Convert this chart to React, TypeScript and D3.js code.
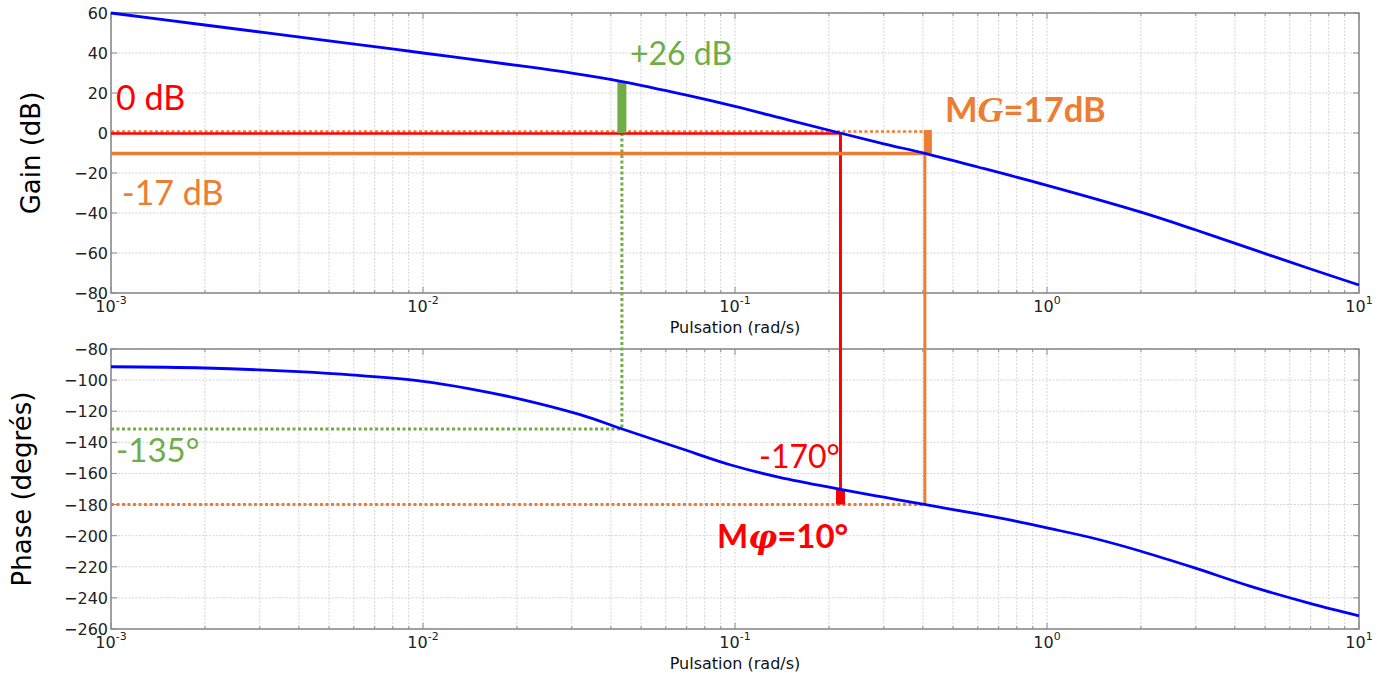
import React from "react";
import * as d3 from "d3";

// gain curve (rad/s, dB)
const gainFreq = [0.001, 0.002, 0.005, 0.01, 0.02, 0.03, 0.0435, 0.07, 0.1, 0.15, 0.217, 0.3, 0.406, 0.6, 1, 2, 3, 4.47, 7, 10];
const gainDb = [60, 54, 46.1, 40, 33.8, 29.9, 25.7, 18.9, 13.3, 6.3, 0, -5.4, -10.2, -17, -26.2, -39.6, -48.5, -57.7, -68, -76];

// phase curve (rad/s, degrees)
const phaseFreq = [0.001, 0.002, 0.004, 0.006, 0.01, 0.014, 0.02, 0.0319, 0.0435, 0.0667, 0.0964, 0.139, 0.218, 0.3, 0.4, 0.6, 0.8, 1, 1.4, 2, 2.94, 4.47, 6.96, 10];
const phaseDeg = [-91.4, -92.2, -94.6, -96.8, -100.8, -105.4, -111.7, -122.2, -131.4, -143.8, -154.4, -162.5, -170.2, -175.3, -179.8, -186, -190.8, -195, -201.5, -210, -220.4, -232.4, -243.5, -251.5];

const gainTicks = [60, 40, 20, 0, -20, -40, -60, -80];
const phaseTicks = [-80, -100, -120, -140, -160, -180, -200, -220, -240, -260];
const decadeExps = [-3, -2, -1, 0, 1];

// annotation points
const wGreen = 0.0434; // +26 dB / -135°
const wCross = 0.2178; // 0 dB crossover
const w180 = 0.406; // -180° crossing
const gainAtGreen = 25.7;
const gainAt180 = -10.2;
const phaseAtGreen = -131.4;
const phaseAtCross = -170.2;

const BLUE = "#0000ff";
const RED = "#ff0000";
const ORANGE = "#ed7d31";
const GREEN = "#70ad47";
const GRID = "#d4d4d4";
const FRAME = "#8c8c8c";
const LBL = "Lato, 'Open Sans', sans-serif";
const AX = "'DejaVu Sans', sans-serif";

const left = 111;
const right = 1359;

const x = d3.scaleLog().domain([1e-3, 10]).range([left, right]);
const yG = d3.scaleLinear().domain([-80, 60]).range([293, 13]);
const yP = d3.scaleLinear().domain([-260, -80]).range([629, 349]);

const minorFreqs: number[] = [];
decadeExps.slice(0, -1).forEach((e) => {
  for (let k = 2; k <= 9; k++) minorFreqs.push(k * Math.pow(10, e));
});

const Panel = ({ y, ticks, label, labelX }: { y: d3.ScaleLinear<number, number>; ticks: number[]; label: string; labelX: number }) => {
  const [bottom, top] = y.range();
  return (
    <g>
      {minorFreqs.map((f) => (
        <line key={"m" + f} x1={x(f)} x2={x(f)} y1={top} y2={bottom} stroke={GRID} strokeWidth={1} strokeDasharray="2,1.5" />
      ))}
      {decadeExps.map((e) => (
        <line key={"M" + e} x1={x(Math.pow(10, e))} x2={x(Math.pow(10, e))} y1={top} y2={bottom} stroke={GRID} strokeWidth={1} strokeDasharray="2,1.5" />
      ))}
      {ticks.map((t) => (
        <line key={"h" + t} x1={left} x2={right} y1={y(t)} y2={y(t)} stroke={GRID} strokeWidth={1} strokeDasharray="2,1.5" />
      ))}
      {/* ticks inside the frame */}
      {minorFreqs.map((f) => (
        <g key={"tm" + f} stroke={FRAME} strokeWidth={1}>
          <line x1={x(f)} x2={x(f)} y1={bottom} y2={bottom - 3} />
          <line x1={x(f)} x2={x(f)} y1={top} y2={top + 3} />
        </g>
      ))}
      {decadeExps.map((e) => (
        <g key={"tM" + e} stroke={FRAME} strokeWidth={1}>
          <line x1={x(Math.pow(10, e))} x2={x(Math.pow(10, e))} y1={bottom} y2={bottom - 6} />
          <line x1={x(Math.pow(10, e))} x2={x(Math.pow(10, e))} y1={top} y2={top + 6} />
        </g>
      ))}
      {ticks.map((t) => (
        <g key={"th" + t} stroke={FRAME} strokeWidth={1}>
          <line x1={left} x2={left + 6} y1={y(t)} y2={y(t)} />
          <line x1={right} x2={right - 6} y1={y(t)} y2={y(t)} />
        </g>
      ))}
      <rect x={left} y={top} width={right - left} height={bottom - top} fill="none" stroke={FRAME} strokeWidth={1.6} />
      {ticks.map((t) => (
        <text key={"l" + t} x={left - 3} y={y(t) + 6} textAnchor="end" fontFamily={AX} fontSize={16} fill="#222">
          {t < 0 ? "\u2212" + Math.abs(t) : t}
        </text>
      ))}
      {decadeExps.map((e) => (
        <text key={"xl" + e} x={x(Math.pow(10, e))} y={bottom + 19} textAnchor="middle" fontFamily={AX} fontSize={16} fill="#222">
          10
          <tspan fontSize={11} dy={-8}>{e}</tspan>
        </text>
      ))}
      <text x={(left + right) / 2} y={bottom + 40} textAnchor="middle" fontFamily={AX} fontSize={16} fill="#111">
        Pulsation (rad/s)
      </text>
      <text transform={`translate(${labelX},${(top + bottom) / 2}) rotate(-90)`} textAnchor="middle" fontFamily={AX} fontSize={26} fill="#000">
        {label}
      </text>
    </g>
  );
};

const App = () => {
  const gainLine = d3
    .line<number>()
    .x((d, i) => x(gainFreq[i]))
    .y((d) => yG(d))
    .curve(d3.curveCatmullRom.alpha(0.5));
  const phaseLine = d3
    .line<number>()
    .x((d, i) => x(phaseFreq[i]))
    .y((d) => yP(d))
    .curve(d3.curveCatmullRom.alpha(0.5));

  return (
    <div>
      <style>{`body{margin:0}`}</style>
      <svg width={1389} height={674} style={{ display: "block", background: "#fff" }}>
        <Panel y={yG} ticks={gainTicks} label="Gain (dB)" labelX={40} />
        <Panel y={yP} ticks={phaseTicks} label="Phase (degrés)" labelX={31} />

        {/* phase margin construction (red) and gain margin (orange) verticals */}
        <line x1={x(wCross)} x2={x(wCross)} y1={yG(0)} y2={yP(phaseAtCross)} stroke={RED} strokeWidth={3} />
        <line x1={x(w180)} x2={x(w180)} y1={yG(gainAt180)} y2={yP(-180)} stroke={ORANGE} strokeWidth={3} />

        {/* green dotted construction */}
        <line x1={x(wGreen)} x2={x(wGreen)} y1={yG(0)} y2={yP(phaseAtGreen)} stroke={GREEN} strokeWidth={3} strokeDasharray="3,2.5" />
        <line x1={left} x2={x(wGreen)} y1={yP(phaseAtGreen)} y2={yP(phaseAtGreen)} stroke={GREEN} strokeWidth={3} strokeDasharray="3,2.5" />

        {/* horizontals */}
        <line x1={left} x2={x(w180) + 4} y1={yG(0) - 1.5} y2={yG(0) - 1.5} stroke={ORANGE} strokeWidth={2.5} strokeDasharray="3,2.5" />
        <line x1={left} x2={x(wCross)} y1={yG(0) + 0.5} y2={yG(0) + 0.5} stroke={RED} strokeWidth={2.5} />
        <line x1={left} x2={x(w180)} y1={yG(gainAt180)} y2={yG(gainAt180)} stroke={ORANGE} strokeWidth={3.5} />
        <line x1={left} x2={x(w180)} y1={yP(-180)} y2={yP(-180)} stroke={ORANGE} strokeWidth={3} strokeDasharray="3,2.5" />

        {/* margin bars */}
        <rect x={x(wGreen) - 4.5} y={yG(gainAtGreen)} width={9} height={yG(0) - yG(gainAtGreen)} fill={GREEN} />
        <rect x={x(w180) - 1} y={yG(0) - 3} width={8} height={yG(gainAt180) - yG(0) + 3} fill={ORANGE} />
        <rect x={x(wCross) - 4.5} y={yP(phaseAtCross)} width={9} height={yP(-180) - yP(phaseAtCross)} fill={RED} />

        <path d={gainLine(gainDb) || ""} fill="none" stroke={BLUE} strokeWidth={2.8} />
        <path d={phaseLine(phaseDeg) || ""} fill="none" stroke={BLUE} strokeWidth={2.8} />

        {/* labels */}
        <text x={630} y={65} fontFamily={LBL} fontSize={32} fill={GREEN}>+26 dB</text>
        <text x={116} y={110} fontFamily={LBL} fontSize={34} fill={RED}>0 dB</text>
        <text x={122} y={205} fontFamily={LBL} fontSize={34} fill={ORANGE}>-17 dB</text>
        <text x={945} y={122} fontFamily={LBL} fontSize={34.5} fontWeight="bold" fill={ORANGE}>
          M<tspan fontFamily="'Liberation Serif', serif" fontStyle="italic" fontSize={36}>G</tspan>=17dB
        </text>
        <text x={116} y={462} fontFamily={LBL} fontSize={33} fill={GREEN}>-135°</text>
        <text x={759} y={468} fontFamily={LBL} fontSize={32} fill={RED}>-170°</text>
        <text x={717} y={548} fontFamily={LBL} fontSize={33} fontWeight="bold" fill={RED}>
          M<tspan fontFamily="'DejaVu Serif', serif" fontStyle="italic" fontSize={32}>φ</tspan>=10°
        </text>
      </svg>
    </div>
  );
};

export default App;
